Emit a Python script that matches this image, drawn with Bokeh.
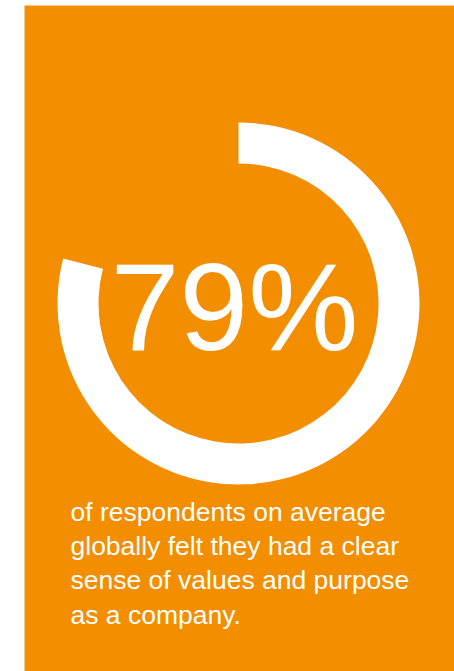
import math
from bokeh.plotting import figure
from bokeh.models import Range1d
from bokeh.core.properties import value
from bokeh.embed import file_html
from bokeh.resources import INLINE

# data
share_pct = [79]
headline = ["79%"]
caption_lines = [
    "of respondents on average",
    "globally felt they had a clear",
    "sense of values and purpose",
    "as a company.",
]

ORANGE = "#F28E00"
W, H = 454, 671

p = figure(width=W, height=H, output_backend="svg", toolbar_location=None,
           x_range=Range1d(0, W), y_range=Range1d(0, H),
           min_border=0, background_fill_color="white", border_fill_color="white")
p.axis.visible = False
p.grid.visible = False
p.outline_line_color = None

def py(y):  # pixel row -> data y
    return H - y

# panel
p.quad(left=[24], right=[W + 10], top=[py(5)], bottom=[-10], fill_color=ORANGE, line_color=None)

# ring
cx, cy = 238, py(303)
start = math.pi / 2
ends = [start - 2 * math.pi * v / 100 for v in share_pct]
p.annular_wedge(x=[cx], y=[cy], inner_radius=140, outer_radius=181,
                start_angle=[start], end_angle=ends, direction="clock",
                fill_color="white", line_color=None)

# headline
p.text(x=[234], y=[py(306)], text=headline, text_color="white",
       text_font=value("Liberation Sans"), text_font_size="124px",
       text_align="center", text_baseline="alphabetic")

# caption
base = [511 + 34.4 * i for i in range(len(caption_lines))]
p.text(x=[70] * len(caption_lines), y=[py(b) for b in base], text=caption_lines,
       text_color="white", text_font=value("Liberation Sans"), text_font_size="26.5px",
       text_align="left", text_baseline="alphabetic")

open("out.html", "w").write(file_html(p, INLINE))
